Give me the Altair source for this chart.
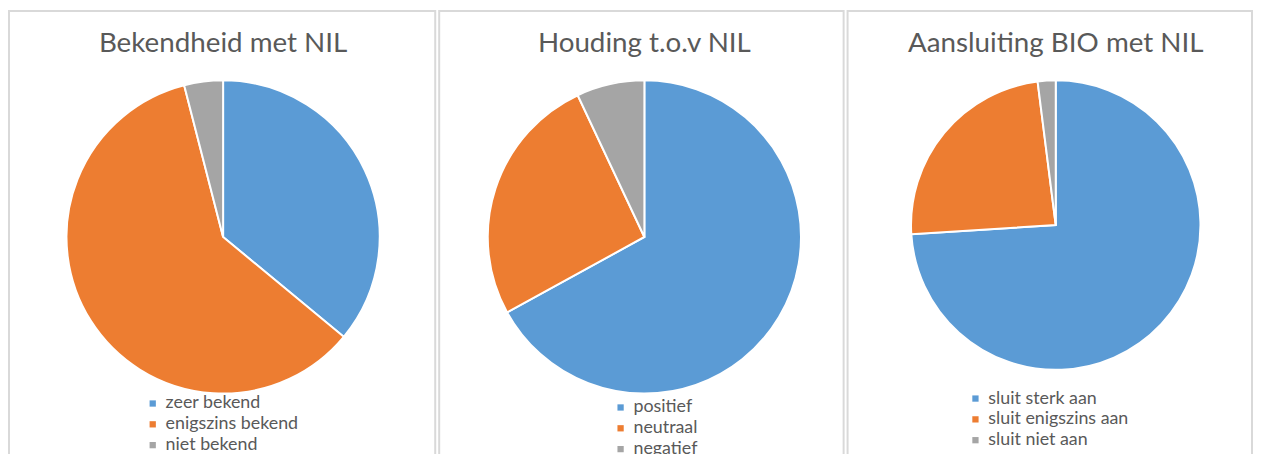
import altair as alt
import pandas as pd

titles = ["Bekendheid met NIL", "Houding t.o.v NIL", "Aansluiting BIO met NIL"]
cats1 = ["zeer bekend", "enigszins bekend", "niet bekend"]
vals1 = [36, 60, 4]
cats2 = ["positief", "neutraal", "negatief"]
vals2 = [67, 26, 7]
cats3 = ["sluit sterk aan", "sluit enigszins aan", "sluit niet aan"]
vals3 = [74, 24, 2]

colors = ["#5B9BD5", "#ED7D31", "#A5A5A5"]
FONT = "Lato"
TXT = "#595959"


def panel(title, cats, vals, w, cx, cy, r, lx, ly):
    df = pd.DataFrame({"cat": cats, "value": vals, "idx": list(range(len(cats)))})
    pie = alt.Chart(df).mark_arc(radius=r, stroke="white", strokeWidth=2).encode(
        theta=alt.Theta("value:Q", stack=True),
        order=alt.Order("idx:Q"),
        color=alt.Color(
            "cat:N",
            scale=alt.Scale(domain=cats, range=colors),
            legend=alt.Legend(
                orient="none", legendX=lx, legendY=ly, title=None,
                symbolType="square", symbolSize=40, symbolStrokeWidth=0,
                labelFont=FONT, labelFontSize=18, labelColor=TXT,
                rowPadding=3, labelOffset=4,
            ),
        ),
        x=alt.value(cx),
        y=alt.value(cy),
    )
    tdf = pd.DataFrame({"t": [title]})
    ttl = alt.Chart(tdf).mark_text(font=FONT, fontSize=28, color=TXT).encode(
        text="t:N", x=alt.value(cx), y=alt.value(33)
    )
    return alt.layer(pie, ttl).properties(width=w, height=452)


p1 = panel(titles[0], cats1, vals1, 430, 216, 228, 158, 136, 387)
p2 = panel(titles[1], cats2, vals2, 408, 207, 228, 158, 174, 391)
p3 = panel(titles[2], cats3, vals3, 408, 210, 216, 146, 120, 382)

chart = (
    alt.hconcat(p1, p2, p3, spacing=2)
    .resolve_scale(color="independent")
    .configure_view(stroke="#D9D9D9", strokeWidth=2)
    .properties(padding=0)
)

chart.save("out.html", embed_options={"renderer": "svg", "actions": False})
